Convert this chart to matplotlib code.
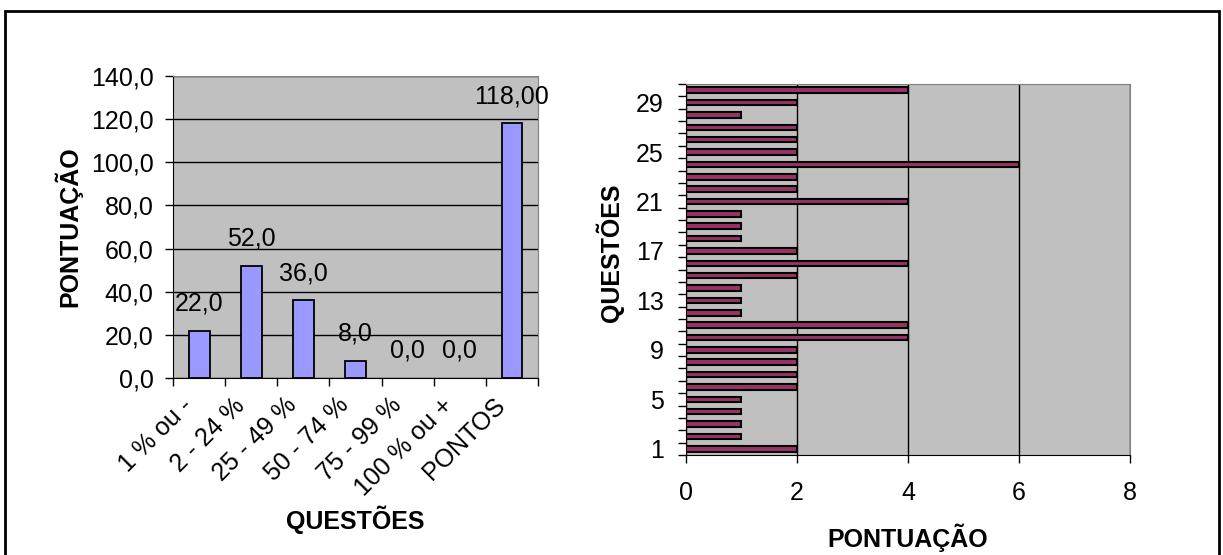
import matplotlib.pyplot as plt
import numpy as np
from matplotlib.patches import Rectangle
from matplotlib.ticker import FixedLocator, NullFormatter

plt.rcParams['font.family'] = ['Liberation Sans', 'DejaVu Sans']

# dados do gráfico da esquerda
faixas = ['1 % ou -', '2 - 24 %', '25 - 49 %', '50 - 74 %', '75 - 99 %', '100 % ou +', 'PONTOS']
pontuacao = [22.0, 52.0, 36.0, 8.0, 0.0, 0.0, 118.0]
rotulos = ['22,0', '52,0', '36,0', '8,0', '0,0', '0,0', '118,00']

# dados do gráfico da direita (questões 1..30)
questoes = list(range(1, 31))
pontos_questao = [2, 1, 1, 1, 1, 2, 2, 2, 2, 4,
                  4, 1, 1, 1, 2, 4, 2, 1, 1, 1,
                  4, 2, 2, 6, 2, 2, 2, 1, 2, 4]

fig = plt.figure(figsize=(12.23, 5.55), dpi=100)

# moldura externa
fig.patches.append(Rectangle((5 / 1223, -0.05), 1214 / 1223, 1.05 - 11 / 555,
                             transform=fig.transFigure, fill=False,
                             edgecolor='black', linewidth=2))

fs_tick = 18
fs_lab = 18

# ---- gráfico da esquerda ----
ax1 = fig.add_axes([0.1415, 0.3189, 0.2984, 0.5442])
ax1.set_facecolor('#C0C0C0')
x = np.arange(len(faixas))
bars = ax1.bar(x, pontuacao, width=0.4, color='#9999FF', edgecolor='black', linewidth=1.3, zorder=3)
for b, t in zip(bars, rotulos):
    if b.get_height() == 0:
        b.set_visible(False)
    ax1.annotate(t, (b.get_x() + b.get_width() / 2, b.get_height()), xytext=(0, 11),
                 textcoords='offset points', ha='center', va='bottom', fontsize=fs_tick)
ax1.set_xlim(-0.5, len(faixas) - 0.5)
ax1.set_ylim(0, 140)
ax1.set_yticks(np.arange(0, 141, 20))
ax1.set_yticklabels([f'{v:.1f}'.replace('.', ',') for v in np.arange(0, 141, 20)], fontsize=fs_tick)
ax1.yaxis.grid(True, color='black', linewidth=1)
ax1.set_axisbelow(True)
ax1.xaxis.set_major_locator(FixedLocator(np.arange(-0.5, len(faixas), 1)))
ax1.xaxis.set_major_formatter(NullFormatter())
# rótulos inclinados ficam um pouco à esquerda do centro da categoria
ax1.xaxis.set_minor_locator(FixedLocator(x - 0.2))
ax1.set_xticklabels(faixas, minor=True, rotation=45, ha='right', va='center',
                    rotation_mode='anchor', fontsize=fs_tick)
ax1.tick_params(axis='x', which='minor', length=0, pad=17)
ax1.tick_params(axis='both', which='major', direction='out', length=6, width=1)
ax1.tick_params(axis='y', pad=8)
ax1.set_xlabel('QUESTÕES', fontsize=fs_lab, fontweight='bold', va='center')
ax1.set_ylabel('PONTUAÇÃO', fontsize=fs_lab, fontweight='bold', va='center')
ax1.xaxis.set_label_coords(0.5, -0.47)
ax1.yaxis.set_label_coords(-0.288, 0.5)
for s in ['top', 'right']:
    ax1.spines[s].set_color('#808080')
for s in ['left', 'bottom']:
    ax1.spines[s].set_color('black')

# ---- gráfico da direita ----
ax2 = fig.add_axes([0.5609, 0.1802, 0.3631, 0.6684])
ax2.set_facecolor('#C0C0C0')
yq = np.arange(len(questoes))
ax2.barh(yq, pontos_questao, height=0.45, color='#993366', edgecolor='black', linewidth=1.5, zorder=3)
ax2.set_xlim(0, 8)
ax2.set_ylim(-0.5, len(questoes) - 0.5)
ax2.set_xticks(np.arange(0, 9, 2))
ax2.set_xticklabels([str(v) for v in range(0, 9, 2)], fontsize=fs_tick)
ax2.xaxis.grid(True, color='black', linewidth=1)
ax2.set_axisbelow(True)
ax2.yaxis.set_major_locator(FixedLocator(np.arange(-0.5, len(questoes), 1)))
ax2.yaxis.set_major_formatter(NullFormatter())
ax2.yaxis.set_minor_locator(FixedLocator(yq[::4]))
ax2.set_yticklabels([str(q) for q in questoes[::4]], minor=True, fontsize=fs_tick)
ax2.tick_params(axis='y', which='minor', length=0, pad=16)
ax2.tick_params(axis='both', which='major', direction='out', length=6, width=1)
ax2.tick_params(axis='x', pad=13)
ax2.set_xlabel('PONTUAÇÃO', fontsize=fs_lab, fontweight='bold', va='center')
ax2.set_ylabel('QUESTÕES', fontsize=fs_lab, fontweight='bold', va='center')
ax2.xaxis.set_label_coords(0.5, -0.2237)
ax2.yaxis.set_label_coords(-0.171, 0.544)
for s in ['top', 'right']:
    ax2.spines[s].set_color('#808080')
for s in ['left', 'bottom']:
    ax2.spines[s].set_color('black')

fig.savefig('out.png', dpi=100)
